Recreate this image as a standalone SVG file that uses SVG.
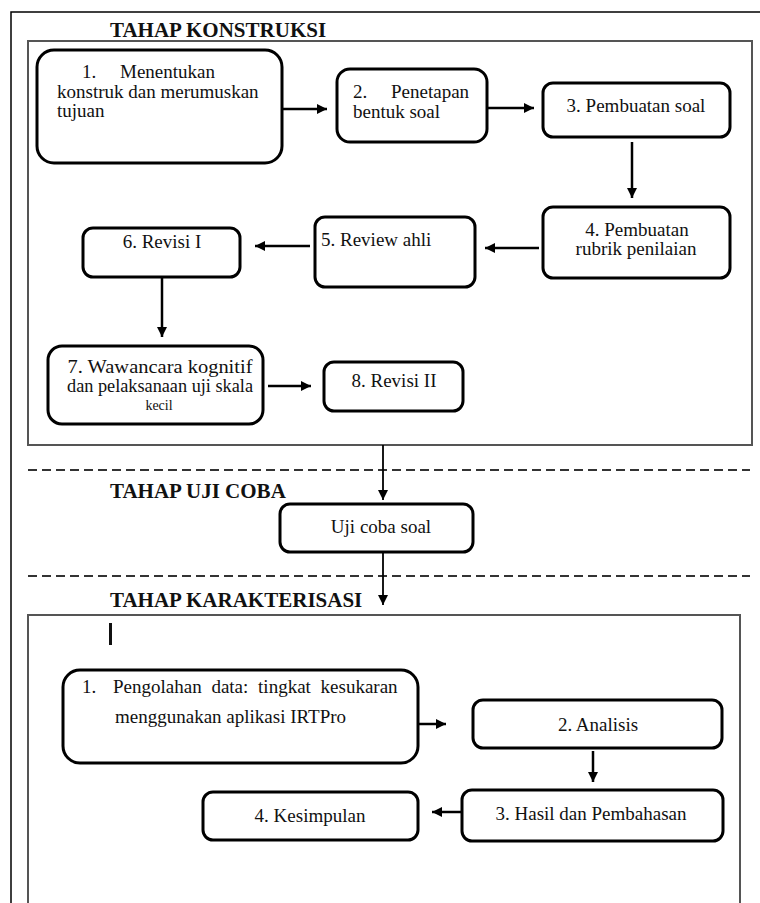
<svg xmlns="http://www.w3.org/2000/svg" width="760" height="903" viewBox="0 0 760 903">
<defs>
<style>
.node{fill:#fff;stroke:#000;stroke-width:3}
.frame{fill:none;stroke:#555;stroke-width:2}
.t{font-family:"Liberation Serif","Times New Roman",serif;font-size:19px;fill:#111}
.h{font-family:"Liberation Serif","Times New Roman",serif;font-size:21px;font-weight:bold;fill:#111}
.c{text-anchor:middle}
.con{stroke:#000;stroke-width:2.5;fill:none;marker-end:url(#ah)}
.dash{stroke:#333;stroke-width:2;stroke-dasharray:9 5}
</style>
<marker id="ah" viewBox="0 0 10 10" refX="10" refY="5" markerUnits="userSpaceOnUse" markerWidth="10" markerHeight="10" orient="auto">
<path d="M0,0 L10,5 L0,10 z" fill="#000"/>
</marker>
</defs>
<rect width="760" height="903" fill="#fff"/>
<!-- outer border -->
<path d="M11,903 V12 H760" fill="none" stroke="#000" stroke-width="1.5"/>

<g id="stage-konstruksi">
<text class="h" x="110" y="37">TAHAP KONSTRUKSI</text>
<rect class="frame" x="28" y="41" width="724" height="404"/>
</g>

<g id="stage-ujicoba">
<line class="dash" x1="28" y1="470" x2="750" y2="470"/>
<text class="h" x="110" y="498">TAHAP UJI COBA</text>
<line class="dash" x1="28" y1="576" x2="750" y2="576"/>
</g>

<g id="stage-karakterisasi">
<text class="h" x="110" y="607">TAHAP KARAKTERISASI</text>
<rect class="frame" x="28" y="615" width="712" height="292"/>
<rect x="109" y="623" width="3" height="22" fill="#111"/>
</g>

<g id="n1">
<rect class="node" x="37" y="50" width="245" height="113" rx="17"/>
<text class="t" x="82" y="78">1.</text>
<text class="t" x="120" y="78">Menentukan</text>
<text class="t" x="57" y="98">konstruk dan merumuskan</text>
<text class="t" x="57" y="117">tujuan</text>
</g>
<g id="n2">
<rect class="node" x="337" y="69" width="150" height="73" rx="13"/>
<text class="t" x="353" y="98">2.</text>
<text class="t" x="391" y="98">Penetapan</text>
<text class="t" x="353" y="118">bentuk soal</text>
</g>
<g id="n3">
<rect class="node" x="543" y="83" width="187" height="54" rx="10"/>
<text class="t c" x="636" y="112">3. Pembuatan soal</text>
</g>
<g id="n4">
<rect class="node" x="543" y="207" width="187" height="71" rx="10"/>
<text class="t c" x="637" y="236">4. Pembuatan</text>
<text class="t c" x="636" y="255">rubrik penilaian</text>
</g>
<g id="n5">
<rect class="node" x="315" y="217" width="160" height="70" rx="10"/>
<text class="t" x="321" y="246">5. Review ahli</text>
</g>
<g id="n6">
<rect class="node" x="83" y="228" width="157" height="49" rx="10"/>
<text class="t c" x="162" y="248">6. Revisi I</text>
</g>
<g id="n7">
<rect class="node" x="48" y="346" width="215" height="78" rx="14"/>
<text class="t c" x="160" y="373" textLength="185" lengthAdjust="spacingAndGlyphs">7. Wawancara kognitif</text>
<text class="t c" x="160" y="392" textLength="186" lengthAdjust="spacingAndGlyphs">dan pelaksanaan uji skala</text>
<text class="t c" x="159" y="410" style="font-size:14px">kecil</text>
</g>
<g id="n8">
<rect class="node" x="324" y="362" width="139" height="49" rx="10"/>
<text class="t c" x="394" y="387">8. Revisi II</text>
</g>
<g id="uji">
<rect class="node" x="280" y="504" width="193" height="48" rx="10"/>
<text class="t c" x="381" y="533">Uji coba soal</text>
</g>
<g id="k1">
<rect class="node" x="63" y="670" width="355" height="93" rx="17"/>
<text class="t" x="82" y="693">1.</text>
<text class="t" x="113" y="693" style="word-spacing:5px">Pengolahan data: tingkat kesukaran</text>
<text class="t" x="115" y="723">menggunakan aplikasi IRTPro</text>
</g>
<g id="k2">
<rect class="node" x="473" y="700" width="249" height="48" rx="10"/>
<text class="t c" x="598" y="731">2. Analisis</text>
</g>
<g id="k3">
<rect class="node" x="462" y="790" width="261" height="51" rx="10"/>
<text class="t c" x="591" y="820">3. Hasil dan Pembahasan</text>
</g>
<g id="k4">
<rect class="node" x="203" y="792" width="215" height="48" rx="10"/>
<text class="t c" x="310" y="822">4. Kesimpulan</text>
</g>

<g id="connectors">
<line class="con" x1="283" y1="109" x2="327" y2="109"/>
<line class="con" x1="488" y1="108" x2="534" y2="108"/>
<line class="con" x1="632" y1="142" x2="632" y2="198"/>
<line class="con" x1="539" y1="248" x2="485" y2="248"/>
<line class="con" x1="310" y1="246" x2="255" y2="246"/>
<line class="con" x1="162" y1="277" x2="162" y2="337"/>
<line class="con" x1="268" y1="386" x2="311" y2="386"/>
<line class="con" x1="383" y1="445" x2="383" y2="500" style="stroke-width:1.8"/>
<line class="con" x1="383" y1="552" x2="383" y2="605" style="stroke-width:1.8"/>
<line class="con" x1="418" y1="724" x2="446" y2="724"/>
<line class="con" x1="593" y1="751" x2="593" y2="782"/>
<line class="con" x1="462" y1="812" x2="432" y2="812"/>
</g>
</svg>
